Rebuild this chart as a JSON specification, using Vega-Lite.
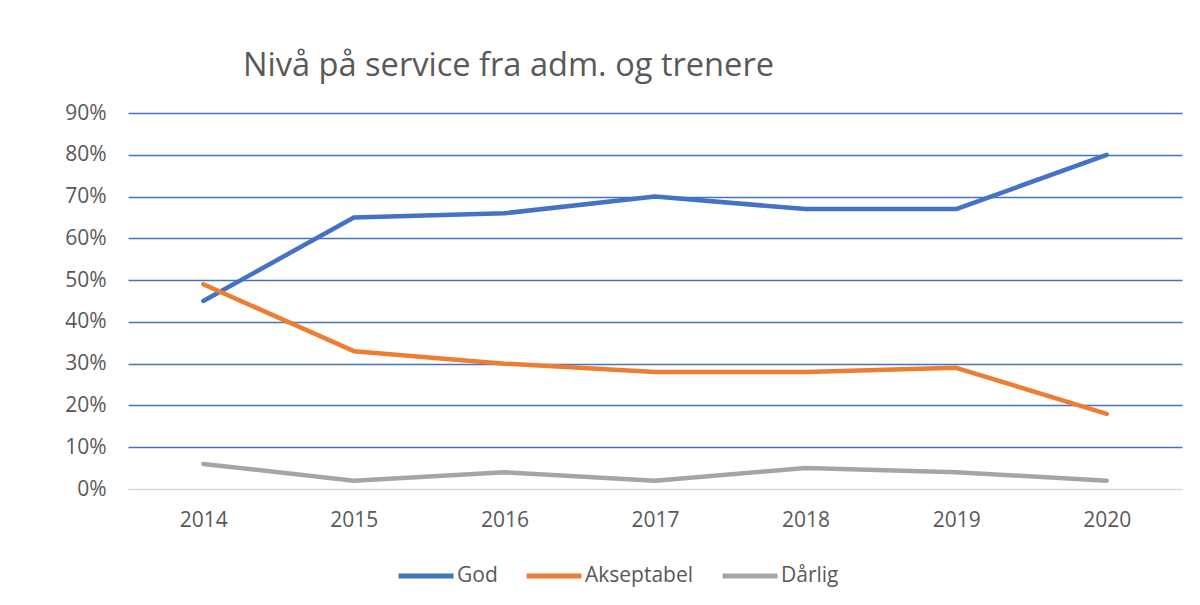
{
  "$schema": "https://vega.github.io/schema/vega-lite/v6.json",
  "width": 1054,
  "height": 376,
  "autosize": {"type": "none"},
  "padding": {"left": 128, "top": 113, "right": 18, "bottom": 116},
  "background": "white",
  "title": {
    "text": "Nivå på service fra adm. og trenere",
    "anchor": "start",
    "frame": "group",
    "dx": 115,
    "offset": 19,
    "font": "Open Sans",
    "fontSize": 32.6,
    "fontWeight": "normal",
    "color": "#595959"
  },
  "config": {
    "view": {"stroke": null},
    "axis": {"labelFont": "Open Sans", "labelColor": "#595959", "labelFontSize": 21, "ticks": false, "title": null},
    "legend": {
      "labelFont": "Open Sans",
      "labelFontSize": 21,
      "labelColor": "#595959",
      "symbolType": "stroke",
      "symbolSize": 3025,
      "symbolStrokeWidth": 5,
      "columnPadding": 18,
      "labelOffset": 1,
      "title": null
    }
  },
  "data": {
    "values": [
      {"year": "2014", "series": "God", "value": 0.45},
      {"year": "2015", "series": "God", "value": 0.65},
      {"year": "2016", "series": "God", "value": 0.66},
      {"year": "2017", "series": "God", "value": 0.70},
      {"year": "2018", "series": "God", "value": 0.67},
      {"year": "2019", "series": "God", "value": 0.67},
      {"year": "2020", "series": "God", "value": 0.80},
      {"year": "2014", "series": "Akseptabel", "value": 0.49},
      {"year": "2015", "series": "Akseptabel", "value": 0.33},
      {"year": "2016", "series": "Akseptabel", "value": 0.30},
      {"year": "2017", "series": "Akseptabel", "value": 0.28},
      {"year": "2018", "series": "Akseptabel", "value": 0.28},
      {"year": "2019", "series": "Akseptabel", "value": 0.29},
      {"year": "2020", "series": "Akseptabel", "value": 0.18},
      {"year": "2014", "series": "Dårlig", "value": 0.06},
      {"year": "2015", "series": "Dårlig", "value": 0.02},
      {"year": "2016", "series": "Dårlig", "value": 0.04},
      {"year": "2017", "series": "Dårlig", "value": 0.02},
      {"year": "2018", "series": "Dårlig", "value": 0.05},
      {"year": "2019", "series": "Dårlig", "value": 0.04},
      {"year": "2020", "series": "Dårlig", "value": 0.02}
    ]
  },
  "mark": {"type": "line", "strokeWidth": 4.5, "strokeCap": "round", "strokeJoin": "round"},
  "encoding": {
    "x": {
      "field": "year",
      "type": "ordinal",
      "scale": {"padding": 0.5},
      "axis": {"labelAngle": 0, "domain": false, "grid": false, "labelPadding": 20}
    },
    "y": {
      "field": "value",
      "type": "quantitative",
      "scale": {"domain": [0, 0.9]},
      "axis": {
        "values": [0, 0.1, 0.2, 0.3, 0.4, 0.5, 0.6, 0.7, 0.8, 0.9],
        "format": ".0%",
        "domain": false,
        "labelPadding": 22,
        "grid": true,
        "gridWidth": 1.4,
        "gridColor": {"condition": {"test": "datum.value === 0", "value": "#d9d9d9"}, "value": "#4472c4"}
      }
    },
    "color": {
      "field": "series",
      "type": "nominal",
      "scale": {"domain": ["God", "Akseptabel", "Dårlig"], "range": ["#4472c4", "#ed7d31", "#a5a5a5"]},
      "legend": {"orient": "none", "direction": "horizontal", "legendX": 268, "legendY": 433}
    }
  }
}
